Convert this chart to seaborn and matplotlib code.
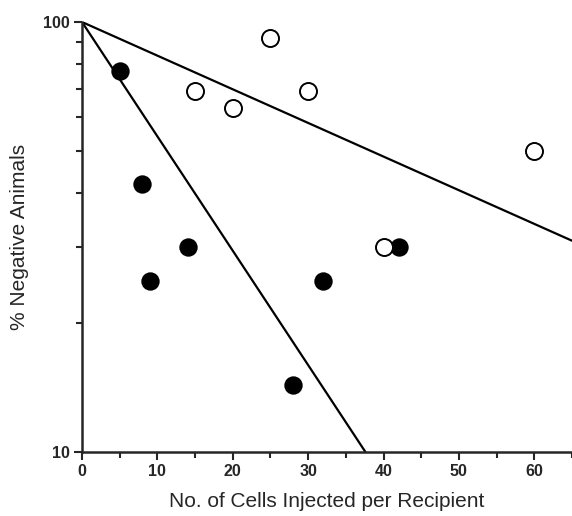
import matplotlib
matplotlib.use("Agg")
import matplotlib.pyplot as plt
import seaborn as sns
import pandas as pd
import numpy as np
from matplotlib.ticker import FixedLocator, NullFormatter

filled_x = [5, 8, 9, 14, 28, 32, 42]
filled_y = [77, 42, 25, 30, 14.3, 25, 30]
open_x = [15, 20, 25, 30, 40, 60]
open_y = [69, 63, 92, 69, 30, 50]
upper_line_x = [0, 65]
upper_line_y = [100, 31]
lower_line_x = [0, 37.6]
lower_line_y = [100, 10]
x_ticks = [0, 10, 20, 30, 40, 50, 60]
y_ticks = [10, 100]

sns.set_style("ticks")
plt.rcParams['font.family'] = ['Liberation Sans', 'DejaVu Sans']

fig = plt.figure(figsize=(5.72, 5.16), dpi=100)
ax = fig.add_axes([82/572, 1-452/516, 1-82/572, (452-22)/516])

df_f = pd.DataFrame({"x": filled_x, "y": filled_y})
df_o = pd.DataFrame({"x": open_x, "y": open_y})
df_u = pd.DataFrame({"x": upper_line_x, "y": upper_line_y})
df_l = pd.DataFrame({"x": lower_line_x, "y": lower_line_y})

ax.set_yscale("log")
sns.lineplot(data=df_u, x="x", y="y", ax=ax, color="black", lw=1.6, zorder=2)
sns.lineplot(data=df_l, x="x", y="y", ax=ax, color="black", lw=1.6, zorder=2)
sns.scatterplot(data=df_f, x="x", y="y", ax=ax, s=175, color="black",
                edgecolor="black", linewidth=0, zorder=3)
sns.scatterplot(data=df_o, x="x", y="y", ax=ax, s=150, facecolor="white",
                edgecolor="black", linewidth=1.4, zorder=3)

ax.set_xlim(0, 65)
ax.set_ylim(10, 100)
ax.set_xticks(x_ticks)
ax.set_xticklabels([str(t) for t in x_ticks], fontweight="bold", fontsize=11.5)
ax.xaxis.set_minor_locator(FixedLocator([5, 15, 25, 35, 45, 55, 65]))
ax.set_yticks(y_ticks)
ax.set_yticklabels([str(t) for t in y_ticks], fontweight="bold", fontsize=11.5)
ax.yaxis.set_minor_locator(FixedLocator([20, 30, 40, 50, 60, 70, 80, 90]))
ax.yaxis.set_minor_formatter(NullFormatter())
ax.tick_params(which="major", length=6, width=1.5, direction="out", pad=3)
ax.tick_params(which="minor", length=4, width=1.5, direction="out")
for s in ["top", "right"]:
    ax.spines[s].set_visible(False)
for s in ["left", "bottom"]:
    ax.spines[s].set_linewidth(1.8)

ax.set_xlabel("No. of Cells Injected per Recipient", fontsize=15, labelpad=9)
ax.set_ylabel("% Negative Animals", fontsize=15, labelpad=10)

fig.savefig("out.png", dpi=100)
